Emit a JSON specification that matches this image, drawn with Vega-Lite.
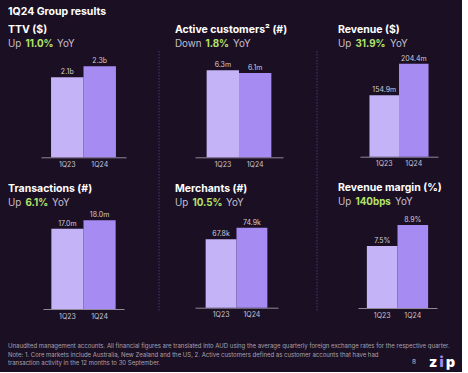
{
  "$schema": "https://vega.github.io/schema/vega-lite/v6.json",
  "background": "#1b0f23",
  "padding": {"left": 8, "top": 7, "right": 2, "bottom": 2},
  "title": {"text": "1Q24 Group results", "fontSize": 10.5, "fontWeight": "bold", "color": "#ffffff", "anchor": "start", "offset": 7},
  "spacing": 24,
  "config": {
    "view": {"stroke": null},
    "font": "Inter",
    "title": {"anchor": "start", "color": "#ffffff", "fontWeight": "bold", "fontSize": 10.5, "offset": 4},
    "axis": {"ticks": false, "domainColor": "#8f8897", "domainWidth": 1, "labelColor": "#c9c3cf", "labelFontSize": 7, "labelPadding": 3, "labelAngle": 0, "title": null, "grid": false},
    "bar": {"stroke": null}
  },
  "vconcat": [
    {
      "spacing": 11,
      "hconcat": [
        {
          "spacing": 15,
          "vconcat": [
            {
              "title": {"text": "TTV ($)"},
              "spacing": 4.3,
              "vconcat": [
                {"spacing": 3.5, "hconcat": [
                  {"width": 1, "height": 1, "data": {"values": []}, "mark": "rule", "encoding": {}, "title": {"text": "Up", "fontSize": 9.8, "fontWeight": "normal", "color": "#c5bfcb", "offset": 2}},
                  {"width": 1, "height": 1, "data": {"values": []}, "mark": "rule", "encoding": {}, "title": {"text": "11.0%", "fontSize": 9.8, "fontWeight": "bold", "color": "#b5e46b", "offset": 2}},
                  {"width": 1, "height": 1, "data": {"values": []}, "mark": "rule", "encoding": {}, "title": {"text": "YoY", "fontSize": 9.8, "fontWeight": "normal", "color": "#c5bfcb", "offset": 2}}
                ]},
                {
                  "width": 135, "height": 100,
                  "data": {"values": [{"q": "1Q23", "v": 2.1, "label": "2.1b"}, {"q": "1Q24", "v": 2.3, "label": "2.3b"}]},
                  "encoding": {
                    "x": {"field": "q", "type": "nominal", "sort": null, "scale": {"range": [33, 118], "paddingInner": 0, "paddingOuter": 0.31}},
                    "y": {"field": "v", "type": "quantitative", "scale": {"domain": [0.645, 2.463], "zero": false, "clamp": true}, "axis": null}
                  },
                  "layer": [
                    {"mark": "bar", "encoding": {"color": {"field": "q", "type": "nominal", "scale": {"domain": ["1Q23", "1Q24"], "range": ["#c5b3f8", "#a68bf3"]}, "legend": null}}},
                    {"mark": {"type": "text", "baseline": "bottom", "dy": -2, "fontSize": 7, "color": "#d2ccd8"}, "encoding": {"text": {"field": "label"}}}
                  ]
                }
              ]
            },
            {
              "title": {"text": "Transactions (#)"},
              "spacing": 0,
              "vconcat": [
                {"spacing": 3.5, "hconcat": [
                  {"width": 1, "height": 1, "data": {"values": []}, "mark": "rule", "encoding": {}, "title": {"text": "Up", "fontSize": 9.8, "fontWeight": "normal", "color": "#c5bfcb", "offset": 2}},
                  {"width": 1, "height": 1, "data": {"values": []}, "mark": "rule", "encoding": {}, "title": {"text": "6.1%", "fontSize": 9.8, "fontWeight": "bold", "color": "#b5e46b", "offset": 2}},
                  {"width": 1, "height": 1, "data": {"values": []}, "mark": "rule", "encoding": {}, "title": {"text": "YoY", "fontSize": 9.8, "fontWeight": "normal", "color": "#c5bfcb", "offset": 2}}
                ]},
                {
                  "width": 135, "height": 97,
                  "data": {"values": [{"q": "1Q23", "v": 17.0, "label": "17.0m"}, {"q": "1Q24", "v": 18.0, "label": "18.0m"}]},
                  "encoding": {
                    "x": {"field": "q", "type": "nominal", "sort": null, "scale": {"range": [35, 116], "paddingInner": 0, "paddingOuter": 0.26}},
                    "y": {"field": "v", "type": "quantitative", "scale": {"domain": [7.44, 18.98], "zero": false, "clamp": true}, "axis": null}
                  },
                  "layer": [
                    {"mark": "bar", "encoding": {"color": {"field": "q", "type": "nominal", "scale": {"domain": ["1Q23", "1Q24"], "range": ["#c5b3f8", "#a68bf3"]}, "legend": null}}},
                    {"mark": {"type": "text", "baseline": "bottom", "dy": -2, "fontSize": 7, "color": "#d2ccd8"}, "encoding": {"text": {"field": "label"}}}
                  ]
                }
              ]
            }
          ]
        },
        {
          "width": 10, "height": 260,
          "title": {"text": "\u00a0", "fontSize": 12, "offset": 4},
          "data": {"values": [{}]},
          "mark": {"type": "rule", "color": "#4b3770", "strokeDash": [1.5, 1.5], "strokeWidth": 1},
          "encoding": {"x": {"datum": 0, "type": "quantitative", "scale": {"domain": [-1, 1]}, "axis": null}}
        },
        {
          "spacing": 15,
          "vconcat": [
            {
              "title": {"text": "Active customers\u00b2 (#)"},
              "spacing": 8.3,
              "vconcat": [
                {"spacing": 3.5, "hconcat": [
                  {"width": 1, "height": 1, "data": {"values": []}, "mark": "rule", "encoding": {}, "title": {"text": "Down", "fontSize": 9.8, "fontWeight": "normal", "color": "#c5bfcb", "offset": 2}},
                  {"width": 1, "height": 1, "data": {"values": []}, "mark": "rule", "encoding": {}, "title": {"text": "1.8%", "fontSize": 9.8, "fontWeight": "bold", "color": "#b5e46b", "offset": 2}},
                  {"width": 1, "height": 1, "data": {"values": []}, "mark": "rule", "encoding": {}, "title": {"text": "YoY", "fontSize": 9.8, "fontWeight": "normal", "color": "#c5bfcb", "offset": 2}}
                ]},
                {
                  "width": 121, "height": 96,
                  "data": {"values": [{"q": "1Q23", "v": 6.3, "label": "6.3m"}, {"q": "1Q24", "v": 6.1, "label": "6.1m"}]},
                  "encoding": {
                    "x": {"field": "q", "type": "nominal", "sort": null, "scale": {"range": [20, 108], "paddingInner": 0, "paddingOuter": 0.36}},
                    "y": {"field": "v", "type": "quantitative", "scale": {"domain": [0, 6.95], "zero": false, "clamp": true}, "axis": null}
                  },
                  "layer": [
                    {"mark": "bar", "encoding": {"color": {"field": "q", "type": "nominal", "scale": {"domain": ["1Q23", "1Q24"], "range": ["#c5b3f8", "#a68bf3"]}, "legend": null}}},
                    {"mark": {"type": "text", "baseline": "bottom", "dy": -2, "fontSize": 7, "color": "#d2ccd8"}, "encoding": {"text": {"field": "label"}}}
                  ]
                }
              ]
            },
            {
              "title": {"text": "Merchants (#)"},
              "spacing": 7.7,
              "vconcat": [
                {"spacing": 3.5, "hconcat": [
                  {"width": 1, "height": 1, "data": {"values": []}, "mark": "rule", "encoding": {}, "title": {"text": "Up", "fontSize": 9.8, "fontWeight": "normal", "color": "#c5bfcb", "offset": 2}},
                  {"width": 1, "height": 1, "data": {"values": []}, "mark": "rule", "encoding": {}, "title": {"text": "10.5%", "fontSize": 9.8, "fontWeight": "bold", "color": "#b5e46b", "offset": 2}},
                  {"width": 1, "height": 1, "data": {"values": []}, "mark": "rule", "encoding": {}, "title": {"text": "YoY", "fontSize": 9.8, "fontWeight": "normal", "color": "#c5bfcb", "offset": 2}}
                ]},
                {
                  "width": 121, "height": 89,
                  "data": {"values": [{"q": "1Q23", "v": 67.8, "label": "67.8k"}, {"q": "1Q24", "v": 74.9, "label": "74.9k"}]},
                  "encoding": {
                    "x": {"field": "q", "type": "nominal", "sort": null, "scale": {"range": [20, 103], "paddingInner": 0, "paddingOuter": 0.345}},
                    "y": {"field": "v", "type": "quantitative", "scale": {"domain": [25.94, 80.41], "zero": false, "clamp": true}, "axis": null}
                  },
                  "layer": [
                    {"mark": "bar", "encoding": {"color": {"field": "q", "type": "nominal", "scale": {"domain": ["1Q23", "1Q24"], "range": ["#c5b3f8", "#a68bf3"]}, "legend": null}}},
                    {"mark": {"type": "text", "baseline": "bottom", "dy": -2, "fontSize": 7, "color": "#d2ccd8"}, "encoding": {"text": {"field": "label"}}}
                  ]
                }
              ]
            }
          ]
        },
        {
          "width": 20, "height": 260,
          "title": {"text": "\u00a0", "fontSize": 12, "offset": 4},
          "data": {"values": [{}]},
          "mark": {"type": "rule", "color": "#4b3770", "strokeDash": [1.5, 1.5], "strokeWidth": 1},
          "encoding": {"x": {"datum": 0, "type": "quantitative", "scale": {"domain": [-1, 1]}, "axis": null}}
        },
        {
          "spacing": 15,
          "vconcat": [
            {
              "title": {"text": "Revenue ($)"},
              "spacing": 1.7,
              "vconcat": [
                {"spacing": 3.5, "hconcat": [
                  {"width": 1, "height": 1, "data": {"values": []}, "mark": "rule", "encoding": {}, "title": {"text": "Up", "fontSize": 9.8, "fontWeight": "normal", "color": "#c5bfcb", "offset": 2}},
                  {"width": 1, "height": 1, "data": {"values": []}, "mark": "rule", "encoding": {}, "title": {"text": "31.9%", "fontSize": 9.8, "fontWeight": "bold", "color": "#b5e46b", "offset": 2}},
                  {"width": 1, "height": 1, "data": {"values": []}, "mark": "rule", "encoding": {}, "title": {"text": "YoY", "fontSize": 9.8, "fontWeight": "normal", "color": "#c5bfcb", "offset": 2}}
                ]},
                {
                  "width": 122, "height": 102,
                  "data": {"values": [{"q": "1Q23", "v": 154.9, "label": "154.9m"}, {"q": "1Q24", "v": 204.4, "label": "204.4m"}]},
                  "encoding": {
                    "x": {"field": "q", "type": "nominal", "sort": null, "scale": {"range": [22, 100], "paddingInner": 0, "paddingOuter": 0.32}},
                    "y": {"field": "v", "type": "quantitative", "scale": {"domain": [58.7, 218.4], "zero": false, "clamp": true}, "axis": null}
                  },
                  "layer": [
                    {"mark": "bar", "encoding": {"color": {"field": "q", "type": "nominal", "scale": {"domain": ["1Q23", "1Q24"], "range": ["#c5b3f8", "#a68bf3"]}, "legend": null}}},
                    {"mark": {"type": "text", "baseline": "bottom", "dy": -2, "fontSize": 7, "color": "#d2ccd8"}, "encoding": {"text": {"field": "label"}}}
                  ]
                }
              ]
            },
            {
              "title": {"text": "Revenue margin (%)"},
              "spacing": 6,
              "vconcat": [
                {"spacing": 3.5, "hconcat": [
                  {"width": 1, "height": 1, "data": {"values": []}, "mark": "rule", "encoding": {}, "title": {"text": "Up", "fontSize": 9.8, "fontWeight": "normal", "color": "#c5bfcb", "offset": 2}},
                  {"width": 1, "height": 1, "data": {"values": []}, "mark": "rule", "encoding": {}, "title": {"text": "140bps", "fontSize": 9.8, "fontWeight": "bold", "color": "#b5e46b", "offset": 2}},
                  {"width": 1, "height": 1, "data": {"values": []}, "mark": "rule", "encoding": {}, "title": {"text": "YoY", "fontSize": 9.8, "fontWeight": "normal", "color": "#c5bfcb", "offset": 2}}
                ]},
                {
                  "width": 122, "height": 92,
                  "data": {"values": [{"q": "1Q23", "v": 7.5, "label": "7.5%"}, {"q": "1Q24", "v": 8.9, "label": "8.9%"}]},
                  "encoding": {
                    "x": {"field": "q", "type": "nominal", "sort": null, "scale": {"range": [20, 99], "paddingInner": 0, "paddingOuter": 0.29}},
                    "y": {"field": "v", "type": "quantitative", "scale": {"domain": [3.35, 9.51], "zero": false, "clamp": true}, "axis": null}
                  },
                  "layer": [
                    {"mark": "bar", "encoding": {"color": {"field": "q", "type": "nominal", "scale": {"domain": ["1Q23", "1Q24"], "range": ["#c5b3f8", "#a68bf3"]}, "legend": null}}},
                    {"mark": {"type": "text", "baseline": "bottom", "dy": -2, "fontSize": 7, "color": "#d2ccd8"}, "encoding": {"text": {"field": "label"}}}
                  ]
                }
              ]
            }
          ]
        }
      ]
    },
    {
      "bounds": "flush",
      "spacing": 0,
      "hconcat": [
        {"width": 404, "height": 1, "data": {"values": []}, "mark": "rule", "encoding": {},
         "title": {"text": ["Unaudited management accounts. All financial figures are translated into AUD using the average quarterly foreign exchange rates for the respective quarter.", "Note: 1. Core markets include Australia, New Zealand and the US, 2. Active customers defined as customer accounts that have had", "transaction activity in the 12 months to 30 September."], "fontSize": 6, "fontWeight": "normal", "color": "#a8a1ad", "lineHeight": 8.5, "offset": 0}},
        {"width": 17, "height": 1, "data": {"values": []}, "mark": "rule", "encoding": {},
         "title": {"text": "8", "fontSize": 6.5, "fontWeight": "normal", "color": "#c9c3cf", "offset": 1}},
        {"spacing": 1.5, "hconcat": [
          {"width": 1, "height": 1, "data": {"values": []}, "mark": "rule", "encoding": {}, "title": {"text": "z", "fontSize": 14, "fontWeight": 900, "color": "#ffffff", "offset": -4}},
          {"width": 1, "height": 1, "data": {"values": []}, "mark": "rule", "encoding": {}, "title": {"text": "i", "fontSize": 14, "fontWeight": 900, "color": "#a68bf3", "offset": -4}},
          {"width": 1, "height": 1, "data": {"values": []}, "mark": "rule", "encoding": {}, "title": {"text": "p", "fontSize": 14, "fontWeight": 900, "color": "#ffffff", "offset": -4}}
        ]}
      ]
    }
  ]
}
